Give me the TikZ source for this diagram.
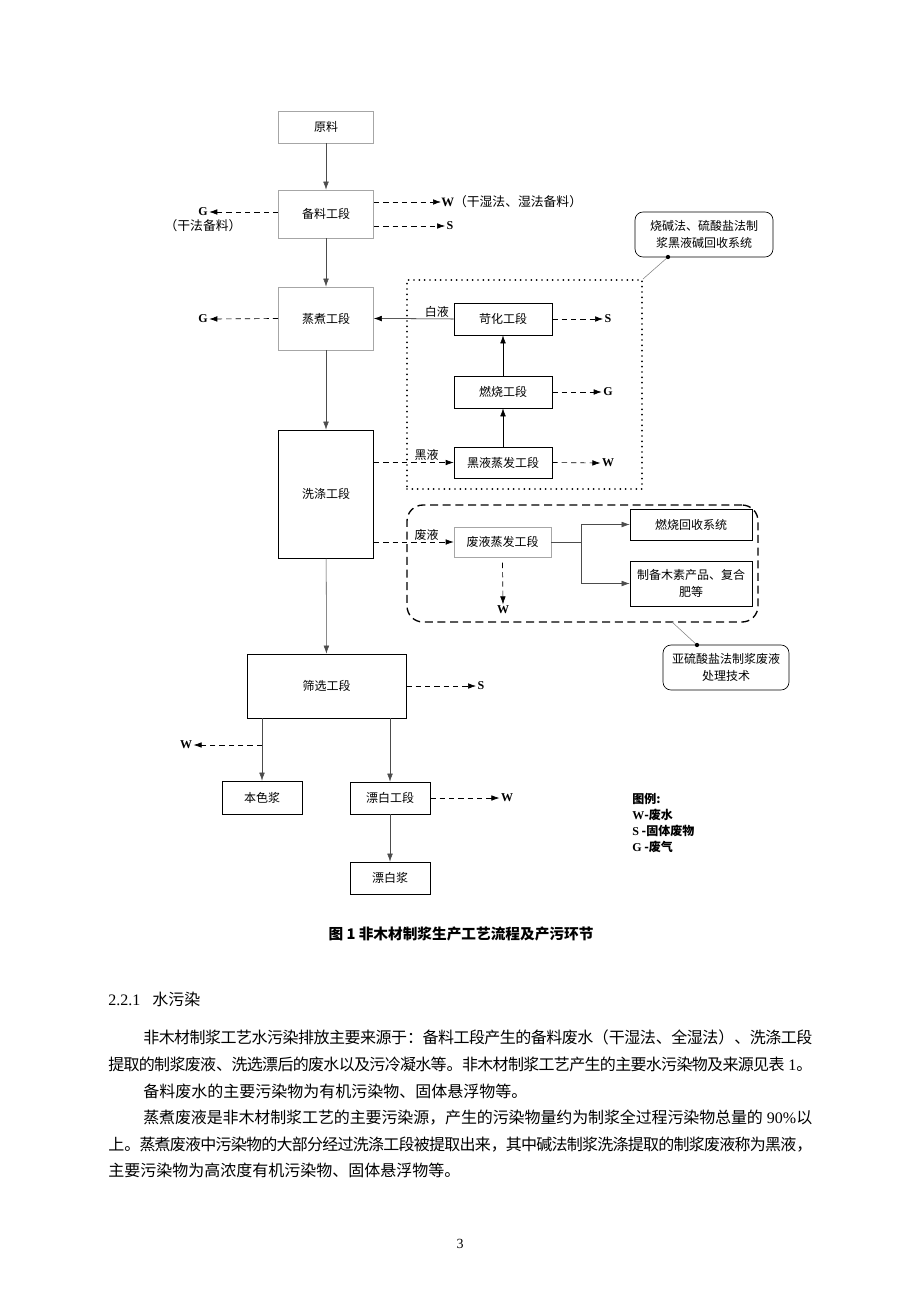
\documentclass[tikz,border=0pt]{standalone}
\usepackage{fontspec}
\setmainfont{Noto Sans CJK SC}
\newfontfamily\tnr{Liberation Serif}
\usepackage{tikz}
\usetikzlibrary{arrows.meta, positioning}
\XeTeXlinebreaklocale "zh"
\XeTeXlinebreakskip=0pt plus 2pt minus 3pt
\newcommand{\fsz}[2]{\fontsize{#1pt}{#2pt}\selectfont}
\newcommand{\wsg}[1]{{\tnr\bfseries #1}}
\newcommand{\jline}[2]{\parbox[b]{#1}{\tolerance=10000\parfillskip=0pt\noindent #2}}

\begin{document}
\begin{tikzpicture}[x=0.75pt, y=-0.75pt, >={Latex[length=6pt,width=4.2pt]},
	every node/.style={inner sep=1pt, font=\fsz{9}{12.75}},
	box/.style={draw, rectangle, inner sep=0pt, align=center, line width=0.5pt},
	gbox/.style={box, draw=gray!70},
	callout/.style={box, rounded corners=6pt},
	flow/.style={->, draw=gray!60!black, line width=0.4pt},
	waste/.style={->, dash pattern=on 4pt off 3pt, line width=0.5pt},
	para/.style={anchor=base west, inner sep=0pt, font=\fsz{12}{14}}]

	\fill [white] (0,0) rectangle (920,1302);
	\useasboundingbox (0,0) rectangle (920,1302);

	% main line
	\node (yl) [gbox, minimum width=71.25pt, minimum height=24pt] at (326,127) {原料};
	\node (bl) [gbox, minimum width=71.25pt, minimum height=36pt] at (326,214) {备料工段};
	\node (zz) [gbox, minimum width=71.25pt, minimum height=47.25pt] at (326,318.5) {蒸煮工段};
	\node (xd) [box, minimum width=71.25pt, minimum height=96pt] at (326,494) {洗涤工段};
	\node (sx) [box, minimum width=119.25pt, minimum height=48pt] at (326.5,686) {筛选工段};
	\node (bsj) [box, minimum width=60pt, minimum height=24.75pt] at (262,797.5) {本色浆};
	\node (pbg) [box, minimum width=60pt, minimum height=24pt] at (390,798) {漂白工段};
	\node (pbj) [box, minimum width=60pt, minimum height=24pt] at (390,878) {漂白浆};

	\draw [flow] (yl) -- (bl);
	\draw [flow] (bl) -- (zz);
	\draw [flow] (zz) -- (xd);
	\draw [flow] (xd) -- (sx);
	\draw [flow] (bsj.north |- sx.south) -- (bsj.north);
	\draw [flow] (pbg.north |- sx.south) -- (pbg.north);
	\draw [flow] (pbg) -- (pbj);

	% black liquor recovery
	\node (jhs) [draw, line width=1.4pt, dash pattern=on 0pt off 4pt, line cap=round,
		minimum width=176.25pt, minimum height=156.75pt] at (524.5,384.5) {};
	\node (kh) [box, minimum width=73.5pt, minimum height=24pt] at (503,319) {苛化工段};
	\node (rsg) [box, minimum width=73.5pt, minimum height=24pt] at (503,392) {燃烧工段};
	\node (hyz) [box, minimum width=73.5pt, minimum height=23.25pt] at (503,462.5) {黑液蒸发工段};

	\draw [->] (hyz) -- (rsg);
	\draw [->] (rsg) -- (kh);
	\draw [->] (kh.west) -- node[pos=0.21, above] {白液} (zz.east);
	\draw [waste] (xd.east |- hyz) -- node[pos=0.66, above] {黑液} (hyz.west);

	% sulfite liquor
	\node (yls) [draw, line width=1pt, dash pattern=on 6pt off 3.5pt, rounded corners=12pt,
		minimum width=263.25pt, minimum height=87.75pt] at (582.5,563.5) {};
	\node (fyz) [gbox, minimum width=72.75pt, minimum height=22.5pt] at (502.5,542) {废液蒸发工段};
	\node (rshs) [box, minimum width=91.5pt, minimum height=23.25pt] at (691,524.5) {燃烧回收系统};
	\node (mszb) [box, minimum width=91.5pt, minimum height=33.75pt] at (691,583.5) {制备木素产品、复合\\肥等};

	\draw [waste] (xd.east |- fyz) -- node[pos=0.66, above] {废液} (fyz.west);
	\draw [gray!60!black] (fyz.east) -- ++(30,0) coordinate (fyj);
	\draw [->, gray!60!black] (fyj) |- (rshs.west);
	\draw [->, gray!60!black] (fyj) |- (mszb.west);

	% callouts
	\node (cb1) [callout, minimum width=103.5pt, minimum height=33.75pt] at (704,234.5) {烧碱法、硫酸盐法制\\浆黑液碱回收系统};
	\node (cb2) [callout, minimum width=94.5pt, minimum height=33.75pt] at (726,667.5) {亚硫酸盐法制浆废液\\处理技术};
	\coordinate (cb1d) at (668,257);
	\coordinate (cb2d) at (697,645);
	\coordinate (ylsd) at (672,622);
	\draw [gray] (jhs.north east) -- (cb1d);
	\fill (cb1d) circle (1.6pt);
	\draw [gray] (ylsd) -- (cb2d);
	\fill (cb2d) circle (1.6pt);

	% W S G
	\node (blW) [anchor=west, inner sep=0pt, font=\fsz{9.6}{12}] at (441,202) {\wsg{W}（干湿法、湿法备料）};
	\node (blS) at (450,226) {\wsg{S}};
	\node (blG) at (203,212) {\wsg{G}};
	\node (blGn) [below=0pt of blG, font=\fsz{9.6}{12}] {（干法备料）};
	\node (zzG) at (203,319) {\wsg{G}};
	\node (khS) at (608,319) {\wsg{S}};
	\node (rsgG) at (608,392) {\wsg{G}};
	\node (hyzW) at (608,463) {\wsg{W}};
	\node (fyW) at (503,610) {\wsg{W}};
	\node (sxS) at (481,686) {\wsg{S}};
	\node (sxW) at (186,745) {\wsg{W}};
	\node (pbW) at (507,798) {\wsg{W}};
	\coordinate (sxj) at (262,745);

	\draw [waste] (bl.east |- blW) -- (blW.west);
	\draw [waste] (bl.east |- blS) -- (blS.west);
	\draw [waste] (bl.west |- blG) -- (blG.east);
	\draw [waste] (zz.west) -- (zzG.east);
	\draw [waste] (kh.east) -- (khS.west);
	\draw [waste] (rsg.east) -- (rsgG.west);
	\draw [waste] (hyz.east) -- (hyzW.west);
	\draw [waste] ([yshift=-4pt]fyz.south) -- (fyW.north);
	\draw [waste] (sx.east) -- (sxS.west);
	\draw [waste] (sxj) -- (sxW.east);
	\draw [waste] (pbg.east) -- (pbW.west);

	% legend
	\node (tl) [anchor=north west, align=left, inner sep=0pt, font=\fsz{9}{12}\bfseries] at (632,793)
		{图例:\\\wsg{W}-废水\\\wsg{S} -固体废物\\\wsg{G} -废气};

	% caption and text
	\node (cap) [font=\fsz{11}{12}\bfseries] at (461,934) {图 1\ 非木材制浆生产工艺流程及产污环节};
	\node (h221) [para] at (108,1005) {{\tnr 2.2.1}\hspace{9pt}水污染};
	\node (l1) [para] at (143,1043)
		{\jline{501.75pt}{非木材制浆工艺水污染排放主要来源于：备料工段产生的备料废水（干湿法、全湿法）、洗涤工段}};
	\node (l2) [para] at (108,1070)
		{\jline{528pt}{提取的制浆废液、洗选漂后的废水以及污冷凝水等。非木材制浆工艺产生的主要水污染物及来源见表{\tnr\ 1}。}};
	\node (l3) [para] at (143,1097)
		{备料废水的主要污染物为有机污染物、固体悬浮物等。};
	\node (l4) [para] at (143,1123)
		{\jline{501.75pt}{蒸煮废液是非木材制浆工艺的主要污染源，产生的污染物量约为制浆全过程污染物总量的{\tnr\ 90\%}以}};
	\node (l5) [para] at (108,1150)
		{\jline{528pt}{上。蒸煮废液中污染物的大部分经过洗涤工段被提取出来，其中碱法制浆洗涤提取的制浆废液称为黑液，}};
	\node (l6) [para] at (108,1176)
		{主要污染物为高浓度有机污染物、固体悬浮物等。};
	\node (pg) [font=\tnr\fsz{10.5}{12}] at (460,1244) {3};

\end{tikzpicture}
\end{document}
